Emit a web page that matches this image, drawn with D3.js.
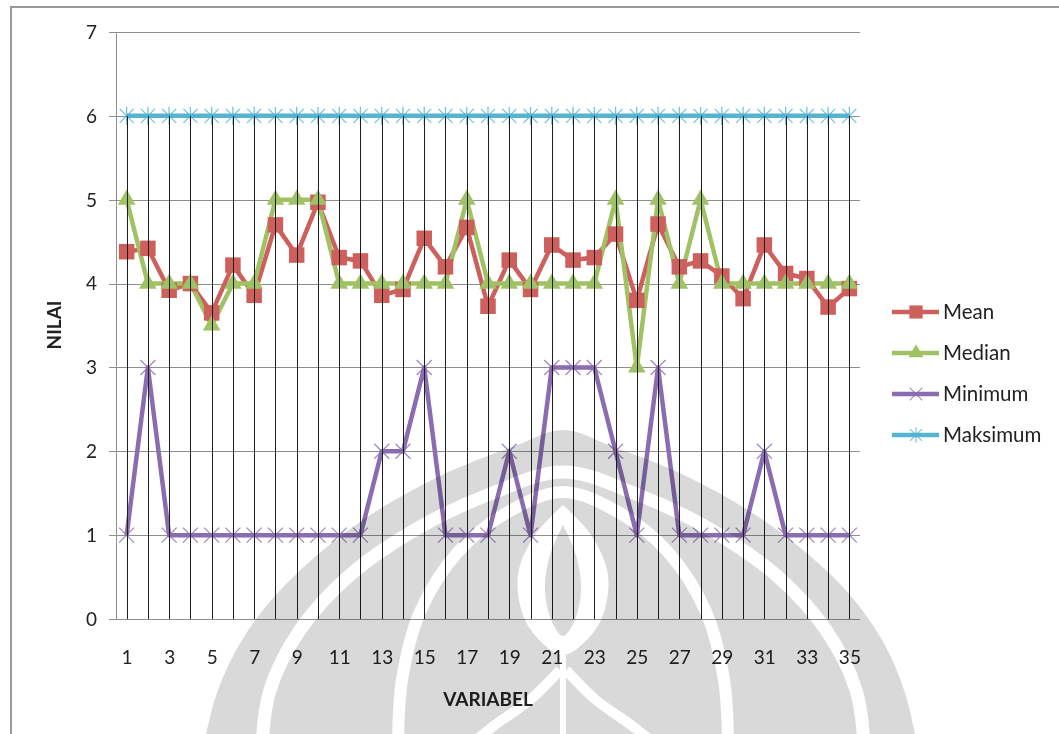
<!DOCTYPE html>
<html>
<head>
<meta charset="utf-8">
<script src="https://cdn.jsdelivr.net/npm/d3@7"></script>
<style>
  body { margin: 0; background: #fff; }
  svg { display: block; }
  text { font-family: Lato, "Open Sans", sans-serif; fill: #222; }
</style>
</head>
<body>
<svg id="chart" width="1059" height="734"></svg>
<script>
// Variables 1..35 on the category axis
const categories = [1,2,3,4,5,6,7,8,9,10,11,12,13,14,15,16,17,18,19,20,21,22,23,24,25,26,27,28,29,30,31,32,33,34,35];
const xTickLabels = [1,3,5,7,9,11,13,15,17,19,21,23,25,27,29,31,33,35];
const yTicks = [0,1,2,3,4,5,6,7];

const mean    = [4.38,4.42,3.92,4.00,3.65,4.22,3.86,4.70,4.34,4.97,4.31,4.27,3.86,3.93,4.54,4.20,4.67,3.73,4.28,3.93,4.46,4.28,4.31,4.59,3.80,4.71,4.20,4.27,4.09,3.82,4.46,4.12,4.06,3.72,3.94];
const median  = [5,4,4,4,3.5,4,4,5,5,5,4,4,4,4,4,4,5,4,4,4,4,4,4,5,3,5,4,5,4,4,4,4,4,4,4];
const minimum = [1,3,1,1,1,1,1,1,1,1,1,1,2,2,3,1,1,1,2,1,3,3,3,2,1,3,1,1,1,1,2,1,1,1,1];
const maksimum= [6,6,6,6,6,6,6,6,6,6,6,6,6,6,6,6,6,6,6,6,6,6,6,6,6,6,6,6,6,6,6,6,6,6,6];

const seriesNames = ["Mean","Median","Minimum","Maksimum"];
const seriesValues = [mean, median, minimum, maksimum];
const seriesColors = ["#cd5f5c","#a0c264","#8a6db0","#55b4d0"];
const seriesMarkers = ["square","triangle","x","star"];

const svg = d3.select("#chart");
const defs = svg.append("defs");

// plot geometry
const plot = { left: 116, right: 860, top: 32, bottom: 619 };
const x = d3.scalePoint().domain(categories).range([plot.left, plot.right]).padding(0.5);
const y = d3.scaleLinear().domain([0, 7]).range([plot.bottom, plot.top]);
const crisp = v => Math.round(v) + 0.5;

// outer chart frame
svg.append("rect")
  .attr("x", 11).attr("y", 7).attr("width", 1200).attr("height", 900)
  .attr("fill", "#fff").attr("stroke", "#9a9a9a").attr("stroke-width", 2);

// horizontal gridlines with short ticks on the left
svg.append("g").selectAll("line").data(yTicks).join("line")
  .attr("x1", plot.left - 7).attr("x2", plot.right)
  .attr("y1", d => crisp(y(d))).attr("y2", d => crisp(y(d)))
  .attr("stroke", "#8f8f8f").attr("stroke-width", 1);

// value axis line
svg.append("line")
  .attr("x1", crisp(plot.left)).attr("x2", crisp(plot.left))
  .attr("y1", crisp(y(7))).attr("y2", crisp(y(0)))
  .attr("stroke", "#8f8f8f").attr("stroke-width", 1);

// y tick labels
svg.append("g").selectAll("text").data(yTicks).join("text")
  .attr("x", 97).attr("y", d => y(d)).attr("dy", "0.36em")
  .attr("text-anchor", "end").attr("font-size", 19).text(d => d);

// x tick labels through a bottom axis
const xAxis = d3.axisBottom(x).tickValues(xTickLabels).tickSize(0).tickPadding(0);
const xg = svg.append("g").attr("transform", `translate(0,${plot.bottom})`).call(xAxis);
xg.select(".domain").remove();
xg.selectAll("text").attr("font-size", 19).attr("y", 45).attr("dy", "0")
  .style("font-family", "Lato, 'Open Sans', sans-serif").attr("fill", "#222");

// axis titles
svg.append("text").attr("x", 488).attr("y", 706).attr("text-anchor", "middle")
  .attr("font-size", 19).attr("font-weight", "bold").text("VARIABEL");
svg.append("text").attr("transform", "translate(61,325) rotate(-90)")
  .attr("text-anchor", "middle").attr("font-size", 19).attr("font-weight", "bold").text("NILAI");

// marker shapes
function markerPath(kind) {
  if (kind === "square") return d3.symbol(d3.symbolSquare, 240)();
  if (kind === "triangle") return d3.symbol(d3.symbolTriangle, 135)();
  if (kind === "x") return "M-7.5,-7.5L7.5,7.5M-7.5,7.5L7.5,-7.5";
  return "M-7,-7L7,7M-7,7L7,-7M0,-9L0,9";
}
function drawMarker(g, kind, color) {
  const p = g.append("path").attr("d", markerPath(kind));
  if (kind === "square" || kind === "triangle") p.attr("fill", color).attr("stroke", "none");
  else p.attr("fill", "none").attr("stroke", color).attr("stroke-width", 1.3).attr("opacity", 0.8);
}

const line = d3.line().x((d, i) => x(categories[i])).y(d => y(d));

// series lines
const linesG = svg.append("g");
seriesValues.forEach((vals, s) => {
  linesG.append("path").datum(vals).attr("d", line)
    .attr("fill", "none").attr("stroke", seriesColors[s])
    .attr("stroke-width", 4.5).attr("stroke-linejoin", "round");
});

// series markers
const markersG = svg.append("g");
seriesValues.forEach((vals, s) => {
  vals.forEach((v, i) => {
    const g = markersG.append("g").attr("transform", `translate(${x(categories[i])},${y(v)})`);
    drawMarker(g, seriesMarkers[s], seriesColors[s]);
  });
});

// drop lines from the highest value of each category to the axis
const tops = categories.map((c, i) => d3.max(seriesValues, vals => vals[i]));
svg.append("g").selectAll("line").data(categories).join("line")
  .attr("x1", d => crisp(x(d))).attr("x2", d => crisp(x(d)))
  .attr("y1", (d, i) => y(tops[i])).attr("y2", y(0))
  .attr("stroke", "#1e1e1e").attr("stroke-width", 1);

// legend
const legend = svg.append("g");
seriesNames.forEach((name, s) => {
  const ly = 312 + s * 41;
  legend.append("line").attr("x1", 892).attr("x2", 939).attr("y1", ly).attr("y2", ly)
    .attr("stroke", seriesColors[s]).attr("stroke-width", 4.5);
  const g = legend.append("g").attr("transform", `translate(916,${ly}) scale(0.85)`);
  drawMarker(g, seriesMarkers[s], seriesColors[s]);
  legend.append("text").attr("x", 943).attr("y", ly).attr("dy", "0.36em")
    .attr("font-size", 20.5).text(name);
});

// background emblem, multiplied over the page
const smooth = d3.line().curve(d3.curveCatmullRom.alpha(0.5));
const mask = defs.append("mask").attr("id", "emblemCut")
  .attr("maskUnits", "userSpaceOnUse").attr("x", 0).attr("y", 0).attr("width", 1059).attr("height", 734);
mask.append("rect").attr("width", 1059).attr("height", 734).attr("fill", "#fff");
const arch1 = [[262,745],[270,690],[300,630],[350,575],[420,527],[490,494],[563,472],[636,494],[706,527],[776,575],[826,630],[856,690],[864,745]];
const arch2 = [[398,745],[402,680],[420,612],[458,552],[508,512],[563,492],[618,512],[668,552],[706,612],[724,680],[728,745]];
mask.append("path").attr("d", smooth(arch1)).attr("fill", "none").attr("stroke", "#000").attr("stroke-width", 13);
mask.append("path").attr("d", smooth(arch2)).attr("fill", "none").attr("stroke", "#000").attr("stroke-width", 12);
const flame = [[563,505],[535,535],[518,575],[525,620],[548,648],[563,655],[578,648],[601,620],[608,575],[591,535],[563,505]];
mask.append("path").attr("d", smooth(flame)).attr("fill", "#000");
const innerFlame = [[563,525],[550,555],[545,590],[552,622],[563,636],[574,622],[581,590],[576,555],[563,525]];
mask.append("path").attr("d", smooth(innerFlame)).attr("fill", "#fff");
mask.append("path").attr("d", "M563,655L563,745").attr("stroke", "#000").attr("stroke-width", 6);
mask.append("path").attr("d", smooth([[560,670],[530,700],[495,725],[470,745]])).attr("fill", "none").attr("stroke", "#000").attr("stroke-width", 10);
mask.append("path").attr("d", smooth([[566,670],[596,700],[631,725],[656,745]])).attr("fill", "none").attr("stroke", "#000").attr("stroke-width", 10);

const outline = [[200,760],[206,734],[218,690],[242,640],[285,585],[360,522],[440,476],[515,446],[563,430],[611,446],[686,476],[766,522],[841,585],[882,640],[904,690],[915,734],[920,760]];
svg.append("path")
  .attr("d", smooth(outline) + "Z")
  .attr("fill", "#d9d9d9")
  .attr("mask", "url(#emblemCut)")
  .style("mix-blend-mode", "multiply");
</script>
</body>
</html>
